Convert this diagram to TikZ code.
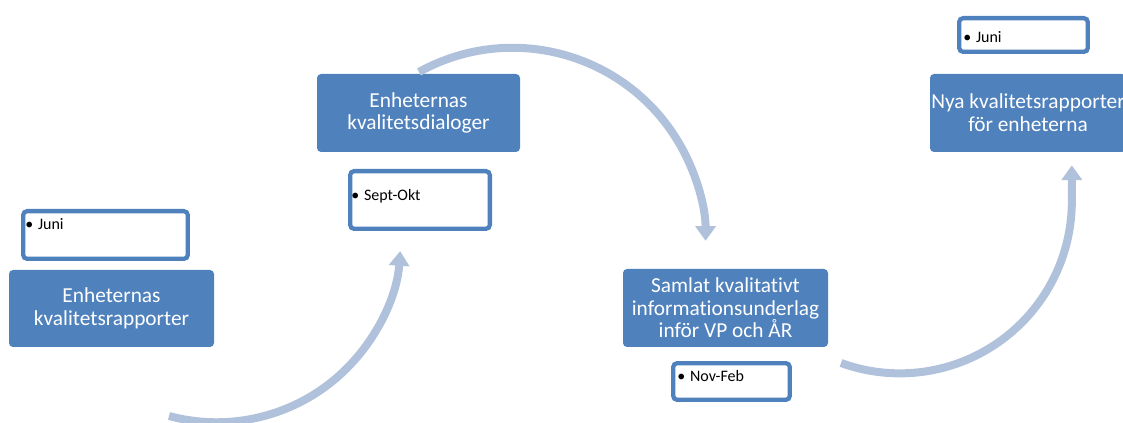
\documentclass[tikz,border=0pt]{standalone}
\usepackage{fontspec}
\setmainfont[Ligatures=NoCommon]{Carlito}
\usetikzlibrary{arrows.meta}
\definecolor{boxblue}{HTML}{4F81BD}
\definecolor{arrowblue}{HTML}{B0C1DB}
\tikzset{
	stage/.style={fill=boxblue, text=white, rounded corners=3pt, inner sep=0pt, align=center,
		font=\fontsize{16}{17}\selectfont},
	tag/.style={draw=boxblue, fill=white, line width=3.2pt, rounded corners=3pt},
	bul/.style={anchor=west, inner sep=0pt, font=\fontsize{12}{14}\selectfont},
	cycle/.style={draw=arrowblue, line width=6pt, -{Triangle[width=15pt,length=11pt]}}
}
\begin{document}
\begin{tikzpicture}[x=0.75pt, y=0.75pt]
		\useasboundingbox (0, 0) rectangle (1123, 423);
		% Juni
		\node[stage, minimum width=153.75pt, minimum height=57.75pt] (rap) at (111.5, 114.5)
				{Enheternas\\kvalitetsrapporter};
		\node[tag, minimum width=123.5pt, minimum height=35.8pt] (j1) at (105.5, 188) {};
		\node[bul] (j1t) at (25, 199) {•\hspace{0.3em}Juni};
		% Sept-Okt
		\node[stage, minimum width=152.25pt, minimum height=58.5pt] (dia) at (418.5, 310)
				{Enheternas\\kvalitetsdialoger};
		\node[tag, minimum width=104.8pt, minimum height=43.3pt] (so) at (420, 223) {};
		\node[bul] (sot) at (351, 227) {•\hspace{0.3em}Sept-Okt};
		% Nov-Feb
		\node[stage, minimum width=153.75pt, minimum height=58.5pt] (sam) at (725.5, 115)
				{Samlat kvalitativt\\informationsunderlag\\inför VP och ÅR};
		\node[tag, minimum width=87.5pt, minimum height=27.5pt] (nf) at (731.5, 41.5) {};
		\node[bul] (nft) at (677, 47) {•\hspace{0.3em}Nov-Feb};
		% Juni igen
		\node[stage, minimum width=147pt, minimum height=58.5pt] (nya) at (1028, 310)
				{Nya kvalitetsrapporter\\för enheterna};
		\node[tag, minimum width=96.5pt, minimum height=25.3pt] (j2) at (1023.5, 388) {};
		\node[bul] (j2t) at (963, 386) {•\hspace{0.3em}Juni};
		% pilar
		\coordinate (p1) at (169, 7);
		\coordinate (p2) at (419, 351);
		\coordinate (p3) at (841, 60);
		\draw[cycle] (p1) arc[start angle=-105, end angle=-4, radius=184];
		\draw[cycle] (p2) arc[start angle=119, end angle=0, radius=193];
		\draw[cycle] (p3) arc[start angle=-110, end angle=0, radius=172] -- ++(0, 36);
\end{tikzpicture}
\end{document}
